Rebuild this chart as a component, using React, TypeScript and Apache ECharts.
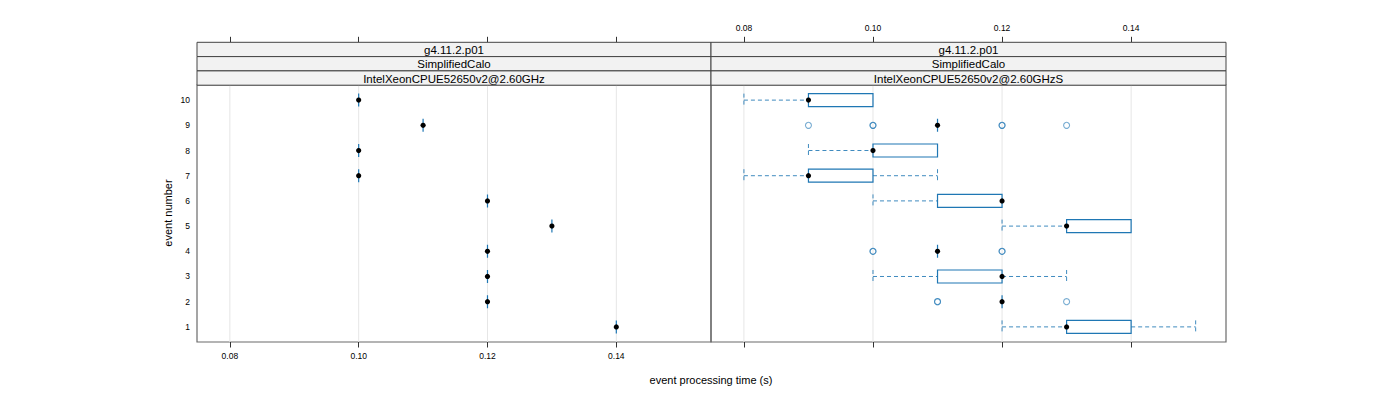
import React, { useEffect, useRef } from "react";
import * as echarts from "echarts";

// ---------- data ----------
const events = [1, 2, 3, 4, 5, 6, 7, 8, 9, 10];
const xTicks = [0.08, 0.1, 0.12, 0.14];
const yTicks = [1, 2, 3, 4, 5, 6, 7, 8, 9, 10];

const stripTop = "g4.11.2.p01";
const stripMid = "SimplifiedCalo";
const panelNames = ["IntelXeonCPUE52650v2@2.60GHz", "IntelXeonCPUE52650v2@2.60GHzS"];

// panel 1: single measurement per event (events 1..10)
const p1Values = [0.14, 0.12, 0.12, 0.12, 0.13, 0.12, 0.1, 0.1, 0.11, 0.1];

// panel 2: box statistics per event (events 1..10)
const p2Low = [0.12, 0.12, 0.1, 0.11, 0.12, 0.1, 0.08, 0.09, 0.11, 0.08];
const p2Q1 = [0.13, 0.12, 0.11, 0.11, 0.13, 0.11, 0.09, 0.1, 0.11, 0.09];
const p2Med = [0.13, 0.12, 0.12, 0.11, 0.13, 0.12, 0.09, 0.1, 0.11, 0.09];
const p2Q3 = [0.14, 0.12, 0.12, 0.11, 0.14, 0.12, 0.1, 0.11, 0.11, 0.1];
const p2High = [0.15, 0.12, 0.13, 0.11, 0.14, 0.12, 0.11, 0.11, 0.11, 0.1];

// panel 2 outliers: [event, value] (repeated values overlap)
const p2Outliers: [number, number][] = [
  [2, 0.11], [2, 0.11], [2, 0.13],
  [4, 0.1], [4, 0.1], [4, 0.12], [4, 0.12],
  [9, 0.09], [9, 0.1], [9, 0.1], [9, 0.12], [9, 0.12], [9, 0.13],
];

// ---------- style ----------
const BLUE = "#1f77b4";
const FONT = "Liberation Sans, Arial, Helvetica, sans-serif";
const X_MIN = 0.0749;
const X_MAX = 0.1547;
const Y_MIN = 0.4;
const Y_MAX = 10.6;

const GRID_TOP = 85;
const GRID_H = 257;
const panels = [
  { left: 197, width: 514 },
  { left: 711, width: 515 },
];
const STRIP_TOP = 42.3;
const STRIP_H = 14.3;

function renderBox(_params: any, api: any) {
  const ev = api.value(0);
  const lo = api.value(1);
  const q1 = api.value(2);
  const med = api.value(3);
  const q3 = api.value(4);
  const hi = api.value(5);
  const h = 6.5;
  const [xLo, y] = api.coord([lo, ev]);
  const [xQ1] = api.coord([q1, ev]);
  const [xMed] = api.coord([med, ev]);
  const [xQ3] = api.coord([q3, ev]);
  const [xHi] = api.coord([hi, ev]);
  const dashed = { stroke: BLUE, lineWidth: 1, lineDash: [4, 3], opacity: 0.85 };
  const children: any[] = [];
  if (lo < q1) {
    children.push({ type: "line", shape: { x1: xLo, y1: y, x2: xQ1, y2: y }, style: dashed });
    children.push({ type: "line", shape: { x1: xLo, y1: y - h, x2: xLo, y2: y + h }, style: dashed });
  }
  if (hi > q3) {
    children.push({ type: "line", shape: { x1: xQ3, y1: y, x2: xHi, y2: y }, style: dashed });
    children.push({ type: "line", shape: { x1: xHi, y1: y - h, x2: xHi, y2: y + h }, style: dashed });
  }
  children.push({
    type: "polygon",
    shape: { points: [[xQ1, y - h], [xQ3, y - h], [xQ3, y + h], [xQ1, y + h]] },
    style: { stroke: BLUE, fill: "none", lineWidth: 1.2 },
  });
  children.push({ type: "circle", shape: { cx: xMed, cy: y, r: 2.6 }, style: { fill: "#000" } });
  return { type: "group", children };
}

function renderGridLine(_params: any, api: any) {
  const v = api.value(0);
  const [x, y1] = api.coord([v, Y_MIN]);
  const [, y2] = api.coord([v, Y_MAX]);
  return { type: "line", shape: { x1: x, y1, x2: x, y2 }, style: { stroke: "#e6e6e6", lineWidth: 1 } };
}

function renderOutlier(_params: any, api: any) {
  const [x, y] = api.coord([api.value(1), api.value(0)]);
  return {
    type: "circle",
    shape: { cx: x, cy: y, r: 3 },
    style: { fill: "none", stroke: BLUE, lineWidth: 1.1, opacity: 0.6 },
  };
}

export default function App() {
  const ref = useRef<HTMLDivElement>(null);
  useEffect(() => {
    if (!ref.current) return;
    const chart = echarts.init(ref.current, undefined, { renderer: "svg" });

    const p1Data = events.map((e, i) => [e, p1Values[i], p1Values[i], p1Values[i], p1Values[i], p1Values[i]]);
    const p2Data = events.map((e, i) => [e, p2Low[i], p2Q1[i], p2Med[i], p2Q3[i], p2High[i]]);

    const fmt = (v: number) => v.toFixed(2);
    const tickStyle = { show: true, length: 5.5, inside: false, customValues: xTicks, lineStyle: { color: "#333", width: 1 } };

    const xAxes: any[] = [];
    panels.forEach((_, gi) => {
      xAxes.push({
        type: "value", gridIndex: gi, position: "bottom", min: X_MIN, max: X_MAX,
        axisLine: { show: false }, splitLine: { show: false },
        axisTick: tickStyle,
        axisLabel: {
          show: gi === 0, customValues: xTicks, formatter: fmt, fontSize: 8.5, color: "#000",
          fontFamily: FONT, margin: 9.5,
        },
      });
      xAxes.push({
        type: "value", gridIndex: gi, position: "top", offset: GRID_TOP - STRIP_TOP, min: X_MIN, max: X_MAX,
        axisLine: { show: false }, splitLine: { show: false },
        axisTick: tickStyle,
        axisLabel: {
          show: gi === 1, customValues: xTicks, formatter: fmt, fontSize: 8.5, color: "#000",
          fontFamily: FONT, margin: 10,
        },
      });
    });

    const yAxes: any[] = panels.map((_, gi) => ({
      type: "value", gridIndex: gi, min: Y_MIN, max: Y_MAX,
      axisLine: { show: false }, splitLine: { show: false },
      axisTick: { show: false },
      axisLabel: {
        show: gi === 0, customValues: yTicks, fontSize: 8.5, color: "#000", fontFamily: FONT, margin: 7,
      },
    }));

    const graphics: any[] = [];
    panels.forEach((p, gi) => {
      const rows = [stripTop, stripMid, panelNames[gi]];
      rows.forEach((label, ri) => {
        const top = STRIP_TOP + ri * STRIP_H;
        graphics.push({
          type: "rect",
          shape: { x: p.left, y: top, width: p.width, height: STRIP_H },
          style: { fill: "#f2f2f2", stroke: "#444", lineWidth: 1 },
          z: 10,
        });
        graphics.push({
          type: "text",
          x: p.left + p.width / 2,
          y: top + STRIP_H / 2 + 0.5,
          style: {
            text: label, fill: "#000", fontSize: 11.5, fontFamily: FONT,
            align: "center", verticalAlign: "middle",
          },
          z: 11,
        });
      });
    });
    graphics.push({
      type: "text", x: 711, y: 380,
      style: { text: "event processing time (s)", fill: "#000", fontSize: 11, fontFamily: FONT, align: "center", verticalAlign: "middle" },
    });
    graphics.push({
      type: "text", x: 168, y: 213, rotation: Math.PI / 2,
      style: { text: "event number", fill: "#000", fontSize: 11, fontFamily: FONT, align: "center", verticalAlign: "middle" },
    });

    chart.setOption({
      animation: false,
      backgroundColor: "#fff",
      grid: panels.map((p) => ({
        left: p.left, top: GRID_TOP, width: p.width, height: GRID_H,
        show: true, borderColor: "#6a6a6a", borderWidth: 1.2, backgroundColor: "transparent",
      })),
      xAxis: xAxes,
      yAxis: yAxes,
      graphic: graphics,
      series: [
        { type: "custom", xAxisIndex: 0, yAxisIndex: 0, data: xTicks.map((v) => [v]), renderItem: renderGridLine, z: 1, silent: true },
        { type: "custom", xAxisIndex: 2, yAxisIndex: 1, data: xTicks.map((v) => [v]), renderItem: renderGridLine, z: 1, silent: true },
        { type: "custom", xAxisIndex: 0, yAxisIndex: 0, data: p1Data, encode: { x: [1, 2, 3, 4, 5], y: 0 }, renderItem: renderBox, z: 3 },
        { type: "custom", xAxisIndex: 2, yAxisIndex: 1, data: p2Data, encode: { x: [1, 2, 3, 4, 5], y: 0 }, renderItem: renderBox, z: 3 },
        { type: "custom", xAxisIndex: 2, yAxisIndex: 1, data: p2Outliers, encode: { x: 1, y: 0 }, renderItem: renderOutlier, z: 4 },
      ],
    });
    return () => chart.dispose();
  }, []);
  return <div ref={ref} style={{ position: "fixed", left: 0, top: 0, width: 1400, height: 400 }} />;
}
